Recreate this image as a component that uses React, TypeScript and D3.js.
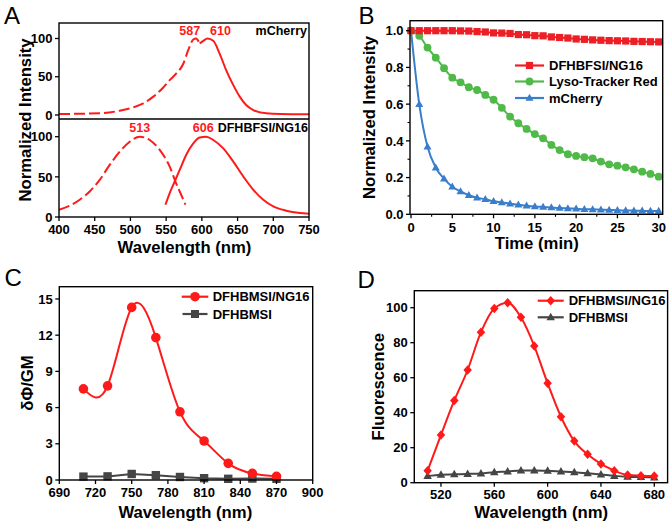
import React from 'react';
import * as d3 from 'd3';

const FONT = '"Liberation Sans", Arial, Helvetica, sans-serif';
const RED = '#ff1a1a';
const B_RED = '#ec1f26';
const B_GREEN = '#4fba48';
const B_BLUE = '#3a7ecb';
const GRAY = '#454545';

// ---------- Panel A data ----------
const aXTicks = [400, 450, 500, 550, 600, 650, 700, 750];
const aYTicks = [0, 50, 100];
const mchExWl = [400, 457, 485, 504, 518, 532, 546, 555, 564, 574, 581, 588, 592, 596];
const mchExVal = [1.3, 2.2, 5.6, 10, 15.2, 24, 36, 45.6, 54, 67, 85, 98.7, 100, 95];
const mchEmWl = [597, 602, 608, 616, 625, 634, 644, 653, 662, 672, 690, 710, 750];
const mchEmVal = [93.5, 97, 100, 97, 80, 58.7, 39, 24, 13, 6.5, 2.2, 1.2, 0.9];
const dfExWl = [400, 415, 429, 443, 457, 471, 485, 499, 513, 527, 541, 555, 564, 571, 577];
const dfExVal = [9.1, 14, 21.5, 31.8, 46.3, 64.9, 81.4, 93.8, 100, 95.9, 83.5, 62.8, 42, 27.7, 15.3];
const dfEmWl = [549, 555, 562, 569, 578, 588, 597, 606, 616, 630, 644, 658, 672, 686, 700, 718, 737, 750];
const dfEmVal = [15.3, 29.8, 44.2, 58.7, 77.3, 91.7, 99, 100, 95.9, 85.5, 69, 50.4, 33.9, 21.5, 13.2, 7.9, 5, 4.1];

// ---------- Panel B data ----------
const bXTicks = [0, 5, 10, 15, 20, 25, 30];
const bXMinor = [2.5, 7.5, 12.5, 17.5, 22.5, 27.5];
const bYTicks = [0, 0.2, 0.4, 0.6, 0.8, 1.0];
const bYMinor = [0.1, 0.3, 0.5, 0.7, 0.9];
const bTime = [0, 1, 2, 3, 4, 5, 6, 7, 8, 9, 10, 11, 12, 13, 14, 15, 16, 17, 18, 19, 20, 21, 22, 23, 24, 25, 26, 27, 28, 29, 30];
const bDF = [1.0, 1.0, 1.0, 1.0, 1.0, 1.0, 0.999, 0.998, 0.995, 0.993, 0.988, 0.987, 0.985, 0.979, 0.978, 0.973, 0.972, 0.966, 0.963, 0.96, 0.955, 0.953, 0.95, 0.948, 0.946, 0.945, 0.944, 0.942, 0.941, 0.94, 0.939];
const bLyso = [1.0, 0.972, 0.908, 0.853, 0.796, 0.744, 0.719, 0.692, 0.677, 0.65, 0.624, 0.58, 0.532, 0.496, 0.465, 0.437, 0.414, 0.378, 0.35, 0.327, 0.318, 0.311, 0.305, 0.287, 0.272, 0.265, 0.256, 0.245, 0.232, 0.22, 0.205];
const bMch = [1.0, 0.6, 0.368, 0.254, 0.194, 0.15, 0.125, 0.104, 0.09, 0.082, 0.071, 0.065, 0.058, 0.052, 0.047, 0.043, 0.04, 0.037, 0.034, 0.032, 0.03, 0.028, 0.027, 0.025, 0.024, 0.022, 0.021, 0.02, 0.019, 0.018, 0.018];
const bLegend = ['DFHBFSI/NG16', 'Lyso-Tracker Red', 'mCherry'];

// ---------- Panel C data ----------
const cXTicks = [690, 720, 750, 780, 810, 840, 870, 900];
const cYTicks = [0, 3, 6, 9, 12, 15];
const cWl = [710, 730, 750, 770, 790, 810, 830, 850, 870];
const cNG = [7.55, 7.8, 14.3, 11.8, 5.65, 3.23, 1.38, 0.55, 0.3];
const cFree = [0.28, 0.3, 0.5, 0.4, 0.25, 0.15, 0.1, 0.12, 0.1];
const cLegend = ['DFHBMSI/NG16', 'DFHBMSI'];

// ---------- Panel D data ----------
const dXTicks = [520, 560, 600, 640, 680];
const dYTicks = [0, 20, 40, 60, 80, 100];
const dWl = [510, 520, 530, 540, 550, 560, 570, 580, 590, 600, 610, 620, 630, 640, 650, 660, 670, 680];
const dNG = [6.9, 27.3, 47, 64.4, 86, 99.6, 102.9, 94.5, 78.1, 56.8, 37.7, 23.8, 16.2, 10.7, 6.9, 4.4, 4, 3.8];
const dFree = [3.8, 4.6, 4.8, 5.0, 5.3, 6.0, 6.4, 7.0, 7.0, 6.8, 6.4, 6.0, 5.4, 4.7, 3.9, 3.4, 3.2, 3.0];
const dLegend = ['DFHBMSI/NG16', 'DFHBMSI'];

type Sc = d3.ScaleLinear<number, number>;

function YTicks({ scale, ticks, x, fmt, minor = [], size = 13, len = 4 }: any) {
  return (
    <g>
      {ticks.map((t: number) => (
        <g key={'t' + t}>
          <line x1={x - len} x2={x} y1={scale(t)} y2={scale(t)} stroke="#000" strokeWidth={1.3} />
          <text x={x - len - 2.5} y={scale(t)} dy="0.36em" textAnchor="end" fontSize={size} fontWeight="bold">
            {fmt(t)}
          </text>
        </g>
      ))}
      {minor.map((t: number) => (
        <line key={'m' + t} x1={x - 2.5} x2={x} y1={scale(t)} y2={scale(t)} stroke="#000" strokeWidth={1.1} />
      ))}
    </g>
  );
}

function XTicks({ scale, ticks, y, fmt, minor = [], size = 13, len = 4, off = 16.5 }: any) {
  return (
    <g>
      {ticks.map((t: number) => (
        <g key={'t' + t}>
          <line x1={scale(t)} x2={scale(t)} y1={y} y2={y + len} stroke="#000" strokeWidth={1.3} />
          <text x={scale(t)} y={y + off} textAnchor="middle" fontSize={size} fontWeight="bold">
            {fmt(t)}
          </text>
        </g>
      ))}
      {minor.map((t: number) => (
        <line key={'m' + t} x1={scale(t)} x2={scale(t)} y1={y} y2={y + 2.5} stroke="#000" strokeWidth={1.1} />
      ))}
    </g>
  );
}

const Frame = ({ x0, x1, y0, y1 }: any) => (
  <rect x={x0} y={y0} width={x1 - x0} height={y1 - y0} fill="none" stroke="#000" strokeWidth={1.4} />
);

const triPath = (w: number, h: number) => `M0,${-h * 0.6}L${w / 2},${h * 0.4}L${-w / 2},${h * 0.4}Z`;
const diaPath = (w: number, h: number) => `M0,${-h / 2}L${w / 2},0L0,${h / 2}L${-w / 2},0Z`;

function PanelA() {
  const L = 59, R = 309, T = 23, M = 119, Bt = 217;
  const x = d3.scaleLinear().domain([400, 750]).range([59, 309]);
  const yTop = d3.scaleLinear().domain([0, 100]).range([115, 38.5]);
  const yBot = d3.scaleLinear().domain([0, 100]).range([217, 136.7]);
  const mk = (wl: number[], v: number[], ys: Sc) =>
    d3.line<number>().x((d) => x(d)).y((_, i) => ys(v[i])).curve(d3.curveMonotoneX)(wl) || '';
  return (
    <g>
      <defs>
        <clipPath id="clipATop"><rect x={L} y={T} width={R - L} height={M - T} /></clipPath>
        <clipPath id="clipABot"><rect x={L} y={M} width={R - L} height={Bt - M} /></clipPath>
      </defs>
      <g clipPath="url(#clipATop)">
        <path d={mk(mchExWl, mchExVal, yTop)} fill="none" stroke={RED} strokeWidth={2} strokeDasharray="11 4" />
        <path d={mk(mchEmWl, mchEmVal, yTop)} fill="none" stroke={RED} strokeWidth={2} />
      </g>
      <g clipPath="url(#clipABot)">
        <path d={mk(dfExWl, dfExVal, yBot)} fill="none" stroke={RED} strokeWidth={2} strokeDasharray="11 4" />
        <path d={mk(dfEmWl, dfEmVal, yBot)} fill="none" stroke={RED} strokeWidth={2} />
      </g>
      <Frame x0={L} x1={R} y0={T} y1={Bt} />
      <line x1={L} x2={R} y1={M} y2={M} stroke="#000" strokeWidth={1.4} />
      <YTicks scale={yTop} ticks={aYTicks} x={L} fmt={(t: number) => String(t)} />
      <YTicks scale={yBot} ticks={aYTicks} x={L} fmt={(t: number) => String(t)} />
      <XTicks scale={x} ticks={aXTicks} y={Bt} fmt={(t: number) => String(t)} off={16.8} />
      <text x={x(583)} y={34.5} textAnchor="middle" fontSize={12.5} fontWeight="bold" fill={RED}>587</text>
      <text x={x(626)} y={34.5} textAnchor="middle" fontSize={12.5} fontWeight="bold" fill={RED}>610</text>
      <text x={307} y={34.5} textAnchor="end" fontSize={12.5} fontWeight="bold">mCherry</text>
      <text x={x(513)} y={132} textAnchor="middle" fontSize={12.5} fontWeight="bold" fill={RED}>513</text>
      <text x={x(602)} y={132} textAnchor="middle" fontSize={12.5} fontWeight="bold" fill={RED}>606</text>
      <text x={308} y={132} textAnchor="end" fontSize={12.5} fontWeight="bold">DFHBFSI/NG16</text>
      <text x={184.5} y={252.5} textAnchor="middle" fontSize={16.7} fontWeight="bold">Wavelength (nm)</text>
      <text transform={`translate(31,120) rotate(-90)`} textAnchor="middle" fontSize={16.7} fontWeight="bold">Normalized Intensity</text>
      <text x={4} y={24} fontSize={24}>A</text>
    </g>
  );
}

function PanelB() {
  const L = 410, R = 662.7, T = 20.7, Bt = 214.3;
  const x = d3.scaleLinear().domain([0, 30]).range([411, 658.7]);
  const y = d3.scaleLinear().domain([0, 1]).range([214.3, 30.7]);
  const ln = (v: number[]) =>
    d3.line<number>().x((d) => x(d)).y((_, i) => y(v[i])).curve(d3.curveMonotoneX)(bTime) || '';
  const legY = [65.5, 81.5, 98];
  const legCol = [B_RED, B_GREEN, B_BLUE];
  const marker = (k: number, cx: number, cy: number, key: string) => {
    if (k === 0) return <rect key={key} x={cx - 3.6} y={cy - 3.6} width={7.2} height={7.2} fill={B_RED} />;
    if (k === 1) return <circle key={key} cx={cx} cy={cy} r={3.9} fill={B_GREEN} />;
    return <path key={key} d={triPath(8, 7)} transform={`translate(${cx},${cy})`} fill={B_BLUE} />;
  };
  return (
    <g>
      <path d={ln(bDF)} fill="none" stroke={B_RED} strokeWidth={2} />
      <path d={ln(bLyso)} fill="none" stroke={B_GREEN} strokeWidth={2} />
      <path d={ln(bMch)} fill="none" stroke={B_BLUE} strokeWidth={2} />
      {bTime.map((t, i) => marker(1, x(t), y(bLyso[i]), 'g' + i))}
      {bTime.map((t, i) => marker(2, x(t), y(bMch[i]), 'b' + i))}
      {bTime.map((t, i) => marker(0, x(t), y(bDF[i]), 'r' + i))}
      <Frame x0={L} x1={R} y0={T} y1={Bt} />
      <YTicks scale={y} ticks={bYTicks} minor={bYMinor} x={L} fmt={(t: number) => t.toFixed(1)} />
      <XTicks scale={x} ticks={bXTicks} minor={bXMinor} y={Bt} fmt={(t: number) => String(t)} off={17.5} />
      {bLegend.map((s, k) => (
        <g key={s}>
          <line x1={515} x2={544} y1={legY[k]} y2={legY[k]} stroke={legCol[k]} strokeWidth={2.2} />
          {marker(k, 529.5, legY[k], 'l' + k)}
          <text x={549} y={legY[k]} dy="0.36em" fontSize={13} fontWeight="bold">{s}</text>
        </g>
      ))}
      <text x={536.8} y={248.5} textAnchor="middle" fontSize={16.7} fontWeight="bold">Time (min)</text>
      <text transform={`translate(374.5,117.5) rotate(-90)`} textAnchor="middle" fontSize={16.7} fontWeight="bold">Normalized Intensity</text>
      <text x={358.5} y={24} fontSize={24}>B</text>
    </g>
  );
}

function PanelC() {
  const L = 59.3, R = 312.7, T = 286.7, Bt = 480;
  const x = d3.scaleLinear().domain([690, 900]).range([L, R]);
  const y = d3.scaleLinear().domain([0, 16]).range([480, 286.9]);
  const red = d3.line<number>().x((d) => x(d)).y((_, i) => y(cNG[i])).curve(d3.curveNatural)(cWl) || '';
  const gray = d3.line<number>().x((d) => x(d)).y((_, i) => y(cFree[i]))(cWl) || '';
  const legY = [296.7, 314];
  return (
    <g>
      <path d={gray} fill="none" stroke={GRAY} strokeWidth={2} />
      {cWl.map((w, i) => (
        <rect key={'s' + i} x={x(w) - 4.2} y={y(cFree[i]) - 4.2} width={8.4} height={8.4} fill={GRAY} />
      ))}
      <path d={red} fill="none" stroke={RED} strokeWidth={2} />
      {cWl.map((w, i) => (
        <circle key={'c' + i} cx={x(w)} cy={y(cNG[i])} r={4.8} fill={RED} />
      ))}
      <Frame x0={L} x1={R} y0={T} y1={Bt} />
      <YTicks scale={y} ticks={cYTicks} x={L} fmt={(t: number) => String(t)} />
      <XTicks scale={x} ticks={cXTicks} y={Bt} fmt={(t: number) => String(t)} off={17.3} />
      <line x1={181.7} x2={208.3} y1={legY[0]} y2={legY[0]} stroke={RED} strokeWidth={2.2} />
      <circle cx={195} cy={legY[0]} r={4.8} fill={RED} />
      <text x={212.7} y={legY[0]} dy="0.36em" fontSize={13} fontWeight="bold">{cLegend[0]}</text>
      <line x1={182.5} x2={207.5} y1={legY[1]} y2={legY[1]} stroke={GRAY} strokeWidth={2.2} />
      <rect x={195 - 4} y={legY[1] - 4} width={8} height={8} fill={GRAY} />
      <text x={212.7} y={legY[1]} dy="0.36em" fontSize={13} fontWeight="bold">{cLegend[1]}</text>
      <text x={185.3} y={518.3} textAnchor="middle" fontSize={16.7} fontWeight="bold">Wavelength (nm)</text>
      <text transform={`translate(33,383) rotate(-90)`} textAnchor="middle" fontSize={16.7} fontWeight="bold">δΦ/GM</text>
      <text x={4.5} y={286} fontSize={24}>C</text>
    </g>
  );
}

function PanelD() {
  const L = 414.3, R = 667.6, T = 290.7, Bt = 482.7;
  const x = d3.scaleLinear().domain([500, 690]).range([L, R]);
  const y = d3.scaleLinear().domain([0, 110]).range([482.7, 290.2]);
  const red = d3.line<number>().x((d) => x(d)).y((_, i) => y(dNG[i])).curve(d3.curveMonotoneX)(dWl) || '';
  const gray = d3.line<number>().x((d) => x(d)).y((_, i) => y(dFree[i])).curve(d3.curveMonotoneX)(dWl) || '';
  const legY = [300.7, 317.3];
  return (
    <g>
      <path d={gray} fill="none" stroke={GRAY} strokeWidth={2} />
      {dWl.map((w, i) => (
        <path key={'t' + i} d={triPath(8.5, 7.5)} transform={`translate(${x(w)},${y(dFree[i])})`} fill={GRAY} />
      ))}
      <path d={red} fill="none" stroke={RED} strokeWidth={2} />
      {dWl.map((w, i) => (
        <path key={'d' + i} d={diaPath(8.5, 9.5)} transform={`translate(${x(w)},${y(dNG[i])})`} fill={RED} />
      ))}
      <Frame x0={L} x1={R} y0={T} y1={Bt} />
      <YTicks scale={y} ticks={dYTicks} x={L} fmt={(t: number) => String(t)} />
      <XTicks scale={x} ticks={dXTicks} y={Bt} fmt={(t: number) => String(t)} off={16.3} />
      <line x1={537.7} x2={563.7} y1={legY[0]} y2={legY[0]} stroke={RED} strokeWidth={2.2} />
      <path d={diaPath(8.5, 9.5)} transform={`translate(550.7,${legY[0]})`} fill={RED} />
      <text x={568.7} y={legY[0]} dy="0.36em" fontSize={13} fontWeight="bold">{dLegend[0]}</text>
      <line x1={537.7} x2={563.7} y1={legY[1]} y2={legY[1]} stroke={GRAY} strokeWidth={2.2} />
      <path d={triPath(8.5, 7.5)} transform={`translate(550.7,${legY[1]})`} fill={GRAY} />
      <text x={568.7} y={legY[1]} dy="0.36em" fontSize={13} fontWeight="bold">{dLegend[1]}</text>
      <text x={541.2} y={518.3} textAnchor="middle" fontSize={16.7} fontWeight="bold">Wavelength (nm)</text>
      <text transform={`translate(384,386.7) rotate(-90)`} textAnchor="middle" fontSize={16.7} fontWeight="bold">Fluorescence</text>
      <text x={357.5} y={288} fontSize={24}>D</text>
    </g>
  );
}

export default function App() {
  return (
    <svg
      width={672}
      height={525}
      style={{ position: 'absolute', left: 0, top: 0, background: '#fff' }}
      fontFamily={FONT}
    >
      <rect x={0} y={0} width={672} height={525} fill="#fff" />
      <PanelA />
      <PanelB />
      <PanelC />
      <PanelD />
    </svg>
  );
}
